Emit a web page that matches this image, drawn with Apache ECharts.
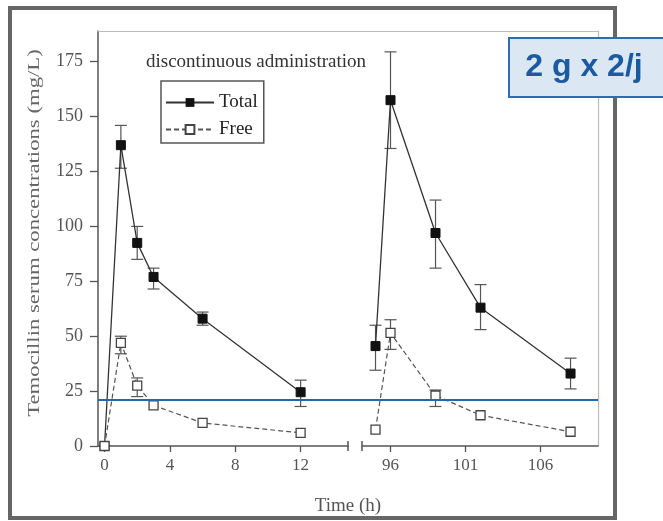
<!DOCTYPE html>
<html><head><meta charset="utf-8">
<script src="https://cdn.jsdelivr.net/npm/echarts@6/dist/echarts.min.js"></script>
<style>html,body{margin:0;padding:0;background:#fff}#c{width:663px;height:521px}</style>
</head><body><div id="c"></div>
<script>
const yTicks = [0, 25, 50, 75, 100, 125, 150, 175];
const xTicksEarly = [0, 4, 8, 12];
const xTicksLate = [96, 101, 106];
const timeEarly = [0, 1, 2, 3, 6, 12];
const totalEarly = [0, 137, 92.5, 77, 58, 24.5];
const totalEarlyLow = [null, 126.5, 85, 71.5, 55, 18];
const totalEarlyHigh = [null, 146, 100, 81, 61, 30];
const freeEarly = [0, 47, 27.5, 18.5, 10.5, 6];
const freeEarlyLow = [null, 42, 22.5, null, null, null];
const freeEarlyHigh = [null, 50, 31, null, null, null];
const timeLate = [95, 96, 99, 102, 108];
const totalLate = [45.5, 157.5, 97, 63, 33];
const totalLateLow = [34.5, 135.5, 81, 53, 26];
const totalLateHigh = [55, 179.5, 112, 73.5, 40];
const freeLate = [7.5, 51.5, 23, 14, 6.5];
const freeLateLow = [null, 44, 18, null, null];
const freeLateHigh = [null, 57.5, 25.5, null, null];
const threshold = 21;
const earlyRange = [-0.4, 14.9];
const lateRange = [94.1, 109.83];
const yRange = [0, 189];

const SERIF = '"Liberation Serif", "DejaVu Serif", serif';
const AX = '#555';

function pairs(xs, ys) { return xs.map((x, i) => [x, ys[i]]); }

function errSeries(times, lo, hi, xi, yi) {
  const data = [];
  times.forEach((t, i) => { if (lo[i] != null) data.push([t, lo[i], hi[i]]); });
  return {
    type: 'custom', xAxisIndex: xi, yAxisIndex: yi, data: data, z: 1, silent: true,
    encode: { x: 0, y: [1, 2] },
    renderItem: function (params, api) {
      const x = api.value(0);
      const p1 = api.coord([x, api.value(1)]);
      const p2 = api.coord([x, api.value(2)]);
      const w = 6;
      const st = { stroke: '#555', lineWidth: 1.2 };
      return { type: 'group', children: [
        { type: 'line', shape: { x1: p1[0], y1: p1[1], x2: p2[0], y2: p2[1] }, style: st },
        { type: 'line', shape: { x1: p1[0] - w, y1: p1[1], x2: p1[0] + w, y2: p1[1] }, style: st },
        { type: 'line', shape: { x1: p2[0] - w, y1: p2[1], x2: p2[0] + w, y2: p2[1] }, style: st }
      ]};
    }
  };
}

function breakSeries(xv, xi, yi) {
  return {
    type: 'custom', xAxisIndex: xi, yAxisIndex: yi, data: [[xv, 0]], silent: true, z: 5,
    renderItem: function (params, api) {
      const p = api.coord([api.value(0), api.value(1)]);
      return { type: 'line', shape: { x1: p[0], y1: p[1] - 5, x2: p[0], y2: p[1] + 5 },
        style: { stroke: AX, lineWidth: 1.5 } };
    }
  };
}

const totalStyle = {
  symbol: 'rect', symbolSize: 9, itemStyle: { color: '#111', borderColor: '#111' },
  lineStyle: { color: '#333', width: 1.3, type: 'solid' }
};
const freeStyle = {
  symbol: 'rect', symbolSize: 9, itemStyle: { color: '#fff', borderColor: '#444', borderWidth: 1.3 },
  lineStyle: { color: '#555', width: 1.2, type: [5, 3] }
};

function xAxisPart(grid, range, ticks) {
  return {
    gridIndex: grid, type: 'value', min: range[0], max: range[1], position: 'bottom',
    axisLine: { show: true, onZero: false, lineStyle: { color: AX, width: 1.5 } },
    axisTick: { show: true, length: 6, customValues: ticks, lineStyle: { color: AX, width: 1.3 } },
    axisLabel: { show: true, customValues: ticks, margin: 11, fontFamily: SERIF, fontSize: 17, color: '#555' },
    splitLine: { show: false }
  };
}

const chart = echarts.init(document.getElementById('c'));
chart.setOption({
  animation: false,
  backgroundColor: '#fff',
  title: {
    text: 'discontinuous administration', left: 141, top: 48,
    textStyle: { fontFamily: SERIF, fontSize: 19, fontWeight: 'normal', color: '#333' }
  },
  legend: {
    data: ['Total', 'Free'], orient: 'vertical', left: 161, top: 81,
    borderColor: '#555', borderWidth: 1.5, backgroundColor: '#fff',
    padding: [12, 6, 4, 4], itemWidth: 48, itemHeight: 11, itemGap: 8,
    textStyle: { fontFamily: SERIF, fontSize: 19, color: '#222' }
  },
  grid: [
    { left: 98, top: 31, width: 500, height: 415 },
    { left: 98, top: 31, width: 250, height: 415 },
    { left: 362, top: 31, width: 236, height: 415 }
  ],
  xAxis: [
    { gridIndex: 0, type: 'value', min: 0, max: 1, position: 'top',
      axisLine: { show: true, onZero: false, lineStyle: { color: '#bbb', width: 1.2 } },
      axisTick: { show: false }, axisLabel: { show: false }, splitLine: { show: false } },
    { gridIndex: 0, type: 'value', min: 0, max: 1, position: 'bottom',
      axisLine: { show: false }, axisTick: { show: false }, axisLabel: { show: false }, splitLine: { show: false },
      name: 'Time (h)', nameLocation: 'middle', nameGap: 51,
      nameTextStyle: { fontFamily: SERIF, fontSize: 19, color: '#555' } },
    xAxisPart(1, earlyRange, xTicksEarly),
    xAxisPart(2, lateRange, xTicksLate)
  ],
  yAxis: [
    { gridIndex: 0, type: 'value', min: yRange[0], max: yRange[1], position: 'left',
      axisLine: { show: true, onZero: false, lineStyle: { color: AX, width: 1.5 } },
      axisTick: { show: true, length: 8, customValues: yTicks, lineStyle: { color: AX, width: 1.3 } },
      axisLabel: { show: true, customValues: yTicks, margin: 15, fontFamily: SERIF, fontSize: 18, color: '#555' },
      splitLine: { show: false } },
    { gridIndex: 0, type: 'value', min: yRange[0], max: yRange[1], position: 'right',
      axisLine: { show: true, onZero: false, lineStyle: { color: '#bbb', width: 1.2 } },
      axisTick: { show: false }, axisLabel: { show: false }, splitLine: { show: false } },
    { gridIndex: 1, type: 'value', min: yRange[0], max: yRange[1], show: false },
    { gridIndex: 2, type: 'value', min: yRange[0], max: yRange[1], show: false }
  ],
  series: [
    { type: 'line', xAxisIndex: 0, yAxisIndex: 0, data: [[0, threshold], [1, threshold]],
      symbol: 'none', silent: true, z: 10, lineStyle: { color: '#2468ab', width: 2 } },
    errSeries(timeEarly, totalEarlyLow, totalEarlyHigh, 2, 2),
    errSeries(timeEarly, freeEarlyLow, freeEarlyHigh, 2, 2),
    errSeries(timeLate, totalLateLow, totalLateHigh, 3, 3),
    errSeries(timeLate, freeLateLow, freeLateHigh, 3, 3),
    Object.assign({ name: 'Total', type: 'line', xAxisIndex: 2, yAxisIndex: 2, data: pairs(timeEarly, totalEarly), z: 3 }, totalStyle),
    Object.assign({ name: 'Total', type: 'line', xAxisIndex: 3, yAxisIndex: 3, data: pairs(timeLate, totalLate), z: 3 }, totalStyle),
    Object.assign({ name: 'Free', type: 'line', xAxisIndex: 2, yAxisIndex: 2, data: pairs(timeEarly, freeEarly), z: 4 }, freeStyle),
    Object.assign({ name: 'Free', type: 'line', xAxisIndex: 3, yAxisIndex: 3, data: pairs(timeLate, freeLate), z: 4 }, freeStyle),
    breakSeries(earlyRange[1], 2, 2),
    breakSeries(lateRange[0], 3, 3)
  ],
  graphic: [
    { type: 'rect', shape: { x: 10, y: 8, width: 605, height: 510 }, z: -1,
      style: { fill: 'none', stroke: '#666', lineWidth: 4 } },
    { type: 'text', x: 35, y: 233, rotation: Math.PI / 2, scaleX: 1.42, z: 5,
      style: { text: 'Temocillin serum concentrations (mg/L)', fill: '#666', font: '16px ' + SERIF,
        textAlign: 'center', textVerticalAlign: 'middle' } },
    { type: 'rect', shape: { x: 509, y: 38, width: 170, height: 59 }, z: 100,
      style: { fill: '#dce7f4', stroke: '#2b6cb4', lineWidth: 2 } },
    { type: 'text', x: 584, y: 67, z: 101,
      style: { text: '2 g x 2/j', fill: '#1c5aa0', font: 'bold 32px "Liberation Sans", Arial, sans-serif',
        textAlign: 'center', textVerticalAlign: 'middle' } }
  ]
});
</script></body></html>
